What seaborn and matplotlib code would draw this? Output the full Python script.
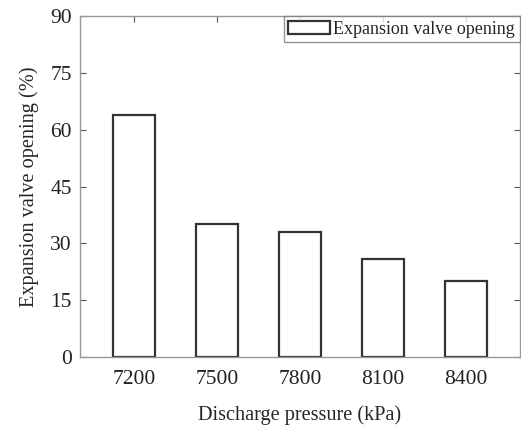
import matplotlib
matplotlib.use("Agg")
import matplotlib.pyplot as plt
import seaborn as sns
import pandas as pd

pressures = ["7200", "7500", "7800", "8100", "8400"]
opening = [64, 35, 33, 26, 20]
yticks = [0, 15, 30, 45, 60, 75, 90]

sns.set_style("ticks")
plt.rcParams['font.family'] = ['Liberation Serif', 'DejaVu Serif']

df = pd.DataFrame({"p": pressures, "v": opening})
fig = plt.figure(figsize=(5.21, 4.25), dpi=100)
ax = fig.add_axes([0.1536, 0.16, 0.844, 0.802])
sns.barplot(data=df, x="p", y="v", color="white", edgecolor="#333333",
            linewidth=1.6, width=0.5, label="Expansion valve opening", ax=ax)
ax.set_xlim(-0.65, 4.65)
ax.set_ylim(0, 90)
ax.set_yticks(yticks)
ax.set_xlabel("Discharge pressure (kPa)", fontsize=14.6, labelpad=12)
ax.set_ylabel("Expansion valve opening (%)", fontsize=14.6, labelpad=8)
ax.tick_params(direction="in", top=True, right=True, labelsize=15.5, color="#555555",
               length=4, width=0.8, labelcolor="#222222")
ax.tick_params(axis="x", pad=9)
ax.tick_params(axis="y", pad=6)
for s in ax.spines.values():
    s.set_visible(True)
    s.set_color("#999999")
    s.set_linewidth(1.0)
leg = ax.legend(loc="upper right", fontsize=13.0, frameon=True, fancybox=False,
                borderaxespad=0, borderpad=0.25, handlelength=2.3, handletextpad=0.2)
leg.get_frame().set_edgecolor("#777777")
leg.get_frame().set_linewidth(1.0)
fig.savefig("out.png", dpi=100)
